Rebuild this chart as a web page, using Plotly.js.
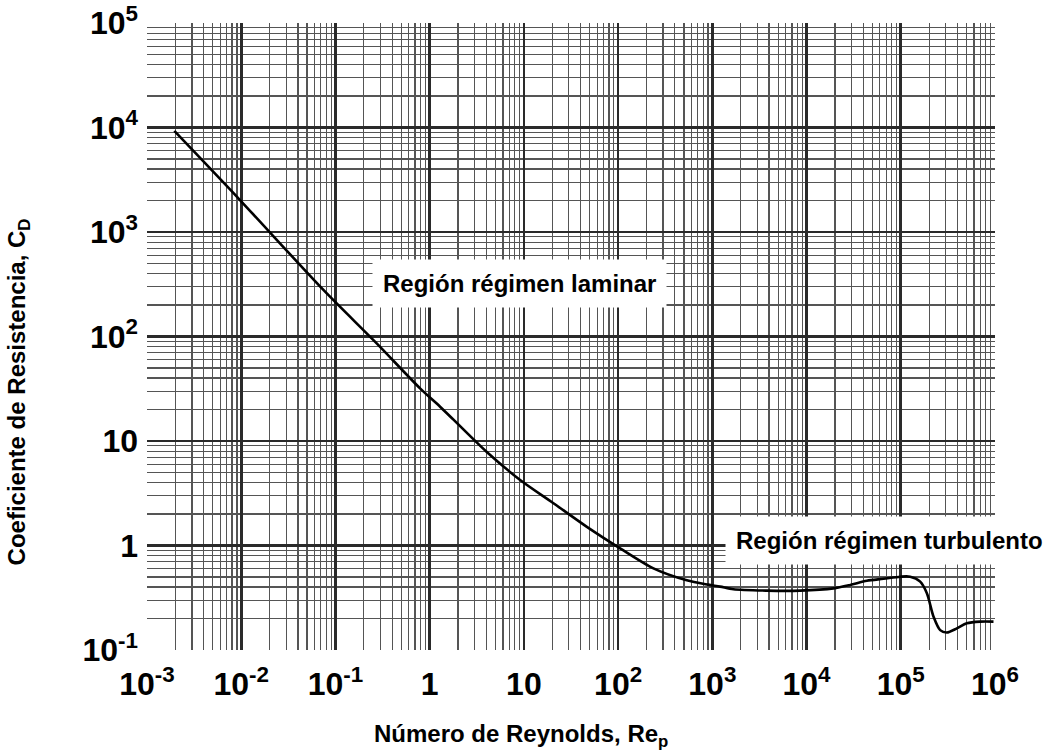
<!DOCTYPE html>
<html>
<head>
<meta charset="utf-8">
<script src="https://cdn.plot.ly/plotly-3.0.1.min.js"></script>
<style>
html,body{margin:0;padding:0;background:#fff;}
#chart{width:1051px;height:755px;}
</style>
</head>
<body>
<div id="chart"></div>
<script>
// Reynolds number (x) and drag coefficient (y)
const reynolds = [0.00195, 0.0097, 0.0745, 0.274, 0.791, 1.29, 1.79, 4.04, 9.12, 20.6, 46.6, 105, 237, 536, 902, 1210, 1675, 3784, 8551, 19320, 29040, 43650, 65610, 98600, 125900, 160700, 189200, 222800, 261800, 308300, 393600, 502300, 696600, 963800];
const dragCoef = [9270, 2023, 279, 86, 31.9, 21.3, 16.0, 7.85, 4.24, 2.54, 1.51, 0.94, 0.605, 0.465, 0.422, 0.404, 0.381, 0.370, 0.370, 0.389, 0.419, 0.460, 0.480, 0.503, 0.503, 0.451, 0.349, 0.208, 0.155, 0.147, 0.161, 0.180, 0.187, 0.187];

// Tick labels
const xTickVals = [1e-3, 1e-2, 1e-1, 1, 10, 1e2, 1e3, 1e4, 1e5, 1e6];
const xTickText = ["10<sup>-3</sup>", "10<sup>-2</sup>", "10<sup>-1</sup>", "1", "10", "10<sup>2</sup>", "10<sup>3</sup>", "10<sup>4</sup>", "10<sup>5</sup>", "10<sup>6</sup>"];
const yTickVals = [1e-1, 1, 10, 1e2, 1e3, 1e4, 1e5];
const yTickText = ["10<sup>-1</sup>", "1", "10", "10<sup>2</sup>", "10<sup>3</sup>", "10<sup>4</sup>", "10<sup>5</sup>"];

// Text labels
const xTitle = "Número de Reynolds, Re<sub>p</sub>";
const yTitle = "Coeficiente de Resistencia, C<sub>D</sub>";
const laminarLabel = "Región régimen laminar";
const turbulentLabel = "Región régimen turbulento";

function minorVals(d0, d1) {
  const v = [];
  for (let d = d0; d < d1; d++) {
    for (let m = 2; m <= 9; m++) v.push(m * Math.pow(10, d));
  }
  return v;
}

const fontFam = '"Liberation Sans", Arial, Helvetica, sans-serif';
const gridMajor = '#2a2a2a';
const gridMinor = '#555555';

const trace = {
  x: reynolds,
  y: dragCoef,
  type: 'scatter',
  mode: 'lines',
  line: {color: '#000', width: 2.6, shape: 'spline', smoothing: 0.8},
  hoverinfo: 'skip'
};

const layout = {
  width: 1051,
  height: 755,
  margin: {l: 147, r: 56, t: 23, b: 105},
  paper_bgcolor: '#fff',
  plot_bgcolor: '#fff',
  showlegend: false,
  font: {family: fontFam, color: '#000'},
  xaxis: {
    type: 'log',
    range: [-3, 6],
    tickmode: 'array',
    tickvals: xTickVals,
    ticktext: xTickText,
    tickfont: {size: 32, weight: 'bold', family: fontFam, color: '#000'},
    ticks: '',
    ticklabelstandoff: 12,
    showgrid: true,
    gridcolor: gridMajor,
    gridwidth: 2.6,
    zeroline: false,
    showline: false,
    minor: {tickmode: 'array', tickvals: minorVals(-3, 6), showgrid: true, gridcolor: gridMinor, gridwidth: 1.2, ticks: ''}
  },
  yaxis: {
    type: 'log',
    range: [-1, 5],
    tickmode: 'array',
    tickvals: yTickVals,
    ticktext: yTickText,
    tickfont: {size: 32, weight: 'bold', family: fontFam, color: '#000'},
    ticks: '',
    ticklabelstandoff: 8,
    showgrid: true,
    gridcolor: gridMajor,
    gridwidth: 2.6,
    zeroline: false,
    showline: false,
    minor: {tickmode: 'array', tickvals: minorVals(-1, 5), showgrid: true, gridcolor: gridMinor, gridwidth: 1.2, ticks: ''}
  },
  annotations: [
    {
      text: laminarLabel, xref: 'paper', yref: 'paper',
      x: 0.4398, y: 0.584, xanchor: 'center', yanchor: 'middle',
      showarrow: false, bgcolor: '#fff', borderpad: 10,
      font: {size: 24, weight: 'bold', family: fontFam, color: '#000'}
    },
    {
      text: turbulentLabel, xref: 'paper', yref: 'paper',
      x: 0.8756, y: 0.175, xanchor: 'center', yanchor: 'middle',
      showarrow: false, bgcolor: '#fff', borderpad: 10,
      font: {size: 24, weight: 'bold', family: fontFam, color: '#000'}
    },
    {
      text: xTitle, xref: 'paper', yref: 'paper',
      x: 0.441, y: -0.136, xanchor: 'center', yanchor: 'middle',
      showarrow: false,
      font: {size: 24, weight: 'bold', family: fontFam, color: '#000'}
    },
    {
      text: yTitle, xref: 'paper', yref: 'paper',
      x: -0.152, y: 0.411, xanchor: 'center', yanchor: 'middle',
      textangle: -90, showarrow: false,
      font: {size: 24, weight: 'bold', family: fontFam, color: '#000'}
    }
  ]
};

Plotly.newPlot('chart', [trace], layout, {displayModeBar: false, staticPlot: true});
</script>
</body>
</html>
